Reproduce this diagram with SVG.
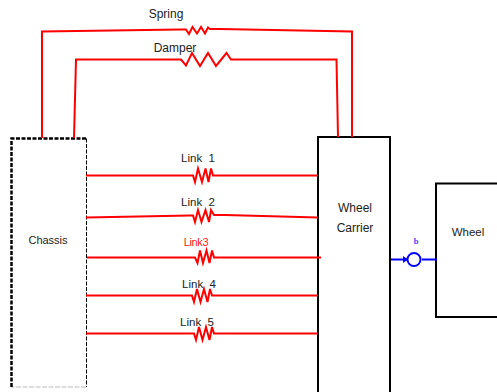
<svg xmlns="http://www.w3.org/2000/svg" width="497" height="392" viewBox="0 0 497 392">
<style>
text{font-family:"Liberation Sans",Arial,sans-serif;font-size:11px;fill:#222;text-anchor:middle}
.l{font-size:11.500px;white-space:pre}
.box{fill:#fff;stroke:#000;stroke-width:2}
.r{fill:none;stroke:#f00;stroke-width:2;stroke-linejoin:miter}
.b{fill:none;stroke:#00f;stroke-width:2}
</style>
<g id="chassis">
<rect x="11.5" y="138.500" width="75" height="248.500" fill="#fff"/>
<path d="M86.500 138.500V387" fill="none" stroke="#000" stroke-width="1" stroke-dasharray="4 1.500"/>
<path d="M86 387H11" fill="none" stroke="#bbb" stroke-width="1" stroke-dasharray="5 1.500"/>
<path d="M11.500 387V138.500H86" fill="none" stroke="#000" stroke-width="2.500" stroke-dasharray="4 1.500"/>
<text x="48" y="244">Chassis</text>
</g>
<g id="carrier">
<path class="box" d="M318 392V137H390V392" />
<text x="355" y="212" style="font-size:12px">Wheel</text>
<text x="355" y="232" style="font-size:12px">Carrier</text>
</g>
<g id="wheel">
<path class="box" d="M497 183.500H436V317H497"/>
<text x="468" y="236" style="font-size:11.500px">Wheel</text>
</g>
<g id="connectors">
<path class="r" d="M42 138V31.500L180 29.500H186L189 34 192.500 27 197 33.500 201 27 205 33.500 208 27.500 210 29H220L352 31.500V137"/>
<path class="r" d="M74 138L76 59.500H181L186 65.500 192 53 200 66 208 53 216 66 226.500 53 231 59.500H336.500L338 137"/>
<path class="r" d="M86 175.500H193L195 182 198 168.500 202 182 205.500 168.500 208.500 182 211 168.500 213 175.500H318"/>
<path class="r" d="M86 217.500L190 215.500H193L195 222 198 210 201.500 222 205.500 210 209 222 211 210 214 215H225L318 217.500"/>
<path class="r" d="M87 257.500H195L197.500 263 200 250.500 203 263 206.500 250.500 209.500 263 212 250.500 214 257.500H321"/>
<path class="r" d="M86 295.500H192L194 302 197 289 200.500 302 204 289 207.500 302 210 289 212 295.500H318"/>
<path class="r" d="M86 333.500H194L196 340 199 327 202.500 340 206 327 209.500 340 212 327 214 333.500H318"/>
<path class="b" d="M391 259.500H407M422 259.500H437"/>
<path d="M403 256L408 259.500 403 263Z" fill="#00f"/>
<circle class="b" cx="414" cy="259.500" r="6.500" fill="#fff"/>
</g>
<g id="labels">
<text x="166" y="18" style="font-size:12px">Spring</text>
<text x="175" y="52" style="font-size:12px">Damper</text>
<text class="l" x="198" y="162">Link  1</text>
<text class="l" x="198" y="206">Link  2</text>
<text x="196" y="246" style="fill:#f22;letter-spacing:-.4px">Link3</text>
<text class="l" x="199" y="288">Link  4</text>
<text class="l" x="197" y="326">Link  5</text>
<text x="416" y="244" style="font-family:'Liberation Serif',serif;font-size:8.500px;font-weight:bold;fill:#44f">b</text>
</g>
</svg>
